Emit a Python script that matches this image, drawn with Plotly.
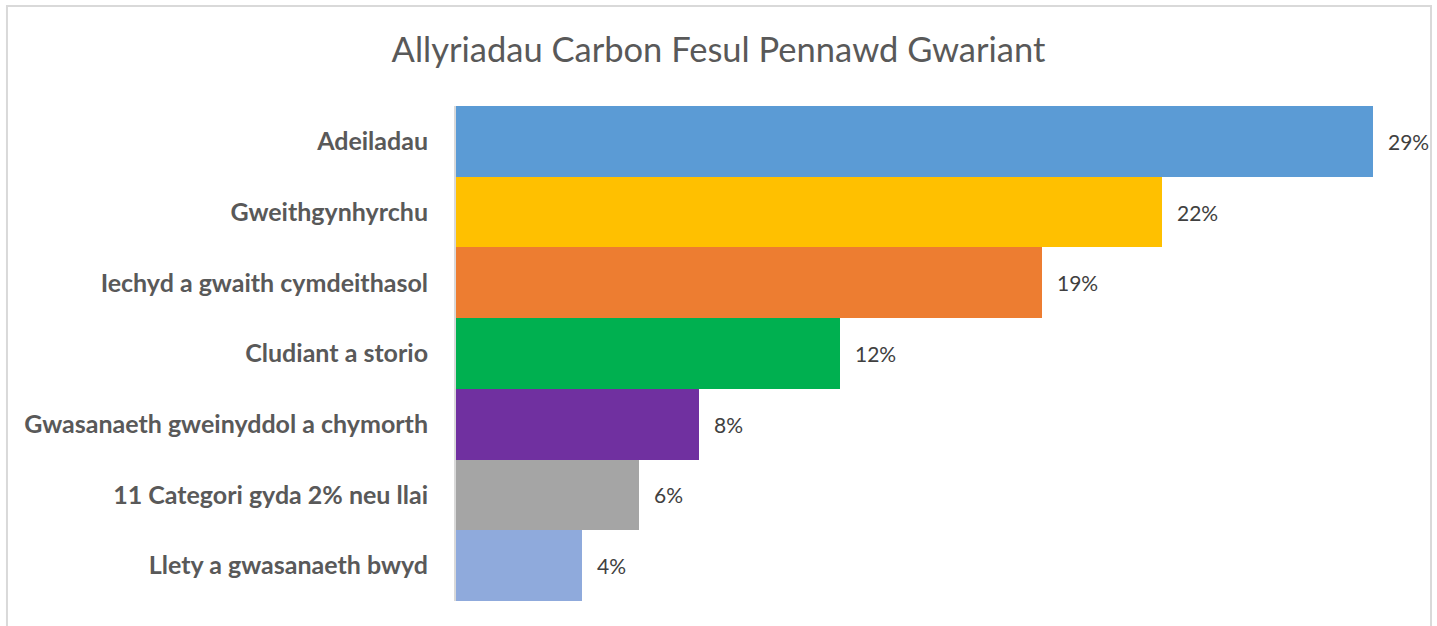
import plotly.graph_objects as go

categories = [
    "Adeiladau",
    "Gweithgynhyrchu",
    "Iechyd a gwaith cymdeithasol",
    "Cludiant a storio",
    "Gwasanaeth gweinyddol a chymorth",
    "11 Categori gyda 2% neu llai",
    "Llety a gwasanaeth bwyd",
]
shares = [0.291, 0.224, 0.186, 0.122, 0.077, 0.058, 0.040]
colors = ["#5B9BD5", "#FFC000", "#ED7D31", "#00B050", "#7030A0", "#A5A5A5", "#8FAADC"]
title_text = "Allyriadau Carbon Fesul Pennawd Gwariant"

FONT = "Lato, 'Open Sans', sans-serif"

fig = go.Figure()
fig.add_trace(go.Bar(
    x=shares,
    y=categories,
    orientation="h",
    marker=dict(color=colors, line=dict(width=0)),
    hoverinfo="skip",
))

for cat, val in zip(categories, shares):
    fig.add_annotation(
        x=val, y=cat, xref="x", yref="y",
        text=f"{val:.0%}", showarrow=False,
        xanchor="left", yanchor="middle", xshift=13,
        font=dict(family=FONT, size=21, color="#404040"),
    )

# outer chart frame
fig.add_shape(type="rect", xref="paper", yref="paper",
              x0=-0.4658, x1=1.0114, y0=-0.07, y1=1.202,
              line=dict(color="#d9d9d9", width=2), fillcolor="rgba(0,0,0,0)", layer="below")

fig.update_layout(
    width=1437, height=626,
    margin=dict(l=456, r=17, t=106, b=25),
    paper_bgcolor="white", plot_bgcolor="white",
    bargap=0,
    showlegend=False,
    title=dict(text=title_text, x=0.5, xanchor="center", xref="container",
               y=1 - 50 / 626, yanchor="middle",
               font=dict(family=FONT, size=34.5, color="#595959")),
    xaxis=dict(range=[0, 0.306], visible=False, fixedrange=True),
    yaxis=dict(autorange="reversed", showline=True, linecolor="#d9d9d9", linewidth=2,
               ticks="", showgrid=False, zeroline=False, ticklabelstandoff=21,
               tickfont=dict(family=FONT, size=25, color="#595959", weight="bold")),
)

fig.write_html("out.html", config={"displayModeBar": False},
               post_script="document.body.style.margin='0';document.body.style.overflow='hidden';")
